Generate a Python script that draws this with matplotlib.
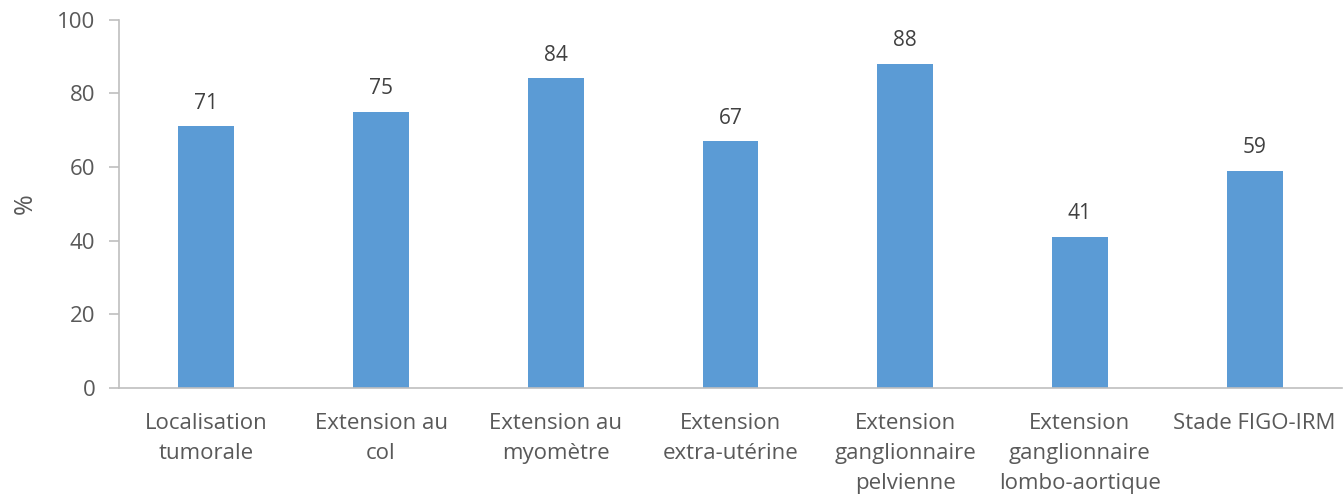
import matplotlib.pyplot as plt

categories = ['Localisation\ntumorale', 'Extension au\ncol', 'Extension au\nmyomètre',
              'Extension\nextra-utérine', 'Extension\nganglionnaire\npelvienne',
              'Extension\nganglionnaire\nlombo-aortique', 'Stade FIGO-IRM']
values = [71, 75, 84, 67, 88, 41, 59]

plt.rcParams['font.family'] = ['Open Sans', 'DejaVu Sans']
text_color = '#595959'

fig = plt.figure(figsize=(13.44, 5.01), dpi=100)
ax = fig.add_axes([0.0885, 0.2255, 0.91, 0.7355])

x = range(len(categories))
bars = ax.bar(x, values, width=0.32, color='#5B9BD5')
for b, v in zip(bars, values):
    ax.annotate(str(v), (b.get_x() + b.get_width() / 2, v), xytext=(0, 9),
                textcoords='offset points', ha='center', va='bottom',
                fontsize=15, color='#404040')

ax.set_xlim(-0.5, len(categories) - 0.5)
ax.set_ylim(0, 100)
ax.set_yticks(range(0, 101, 20))
ax.set_xticks(list(x))
ax.set_xticklabels(categories, fontsize=16, color=text_color, linespacing=1.55)
ax.tick_params(axis='x', length=0, pad=18)
ax.tick_params(axis='y', length=7, width=1.2, color='#BFBFBF', labelsize=16,
               labelcolor=text_color, pad=10)
ax.set_ylabel('%', fontsize=18, color=text_color, labelpad=14)

for s in ['top', 'right']:
    ax.spines[s].set_visible(False)
for s in ['left', 'bottom']:
    ax.spines[s].set_color('#BFBFBF')
    ax.spines[s].set_linewidth(1.2)

fig.savefig('out.png', dpi=100)
